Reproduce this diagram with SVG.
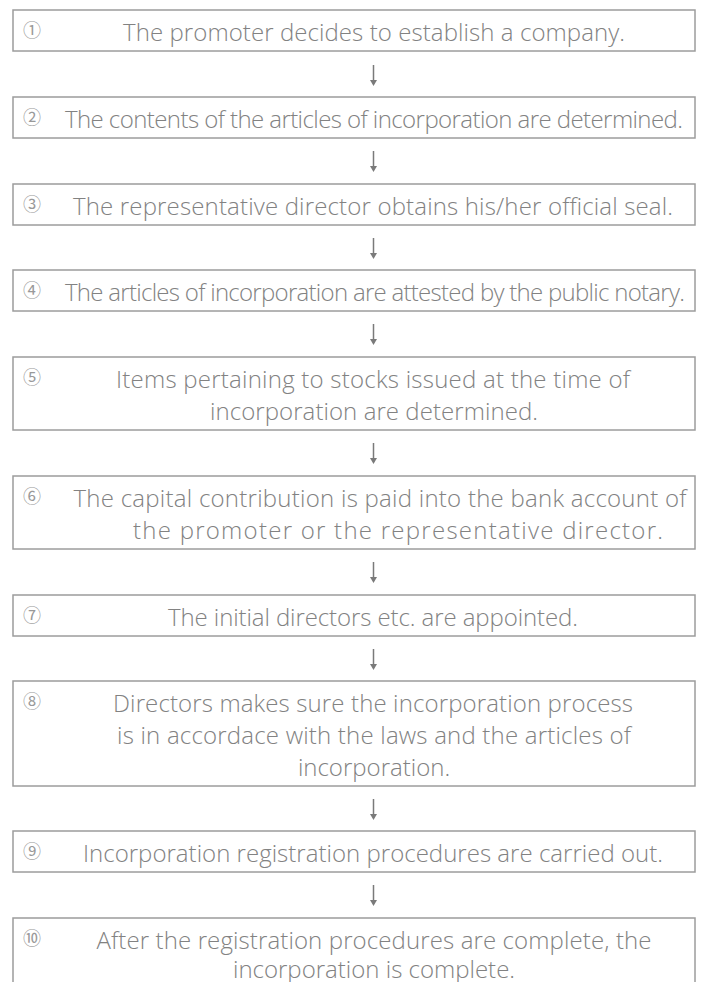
<svg xmlns="http://www.w3.org/2000/svg" width="701" height="982" viewBox="0 0 701 982">
<style>
.box{fill:#fff;stroke:#9c9c9c;stroke-width:1.5}
.t{font-family:"Open Sans","Noto Sans",sans-serif;font-weight:300;font-size:24px;fill:#828282;text-anchor:middle}
.n{font-family:"Noto Sans CJK JP","Noto Sans",sans-serif;font-size:18px;fill:#999;text-anchor:middle}
.c line{stroke:#7a7a7a;stroke-width:1.5}
.c polygon{fill:#7a7a7a}
</style>
<rect width="701" height="982" fill="#fff"/>
<g id="n1"><rect class="box" x="13" y="10" width="682" height="41"/><text class="n" x="32" y="37">①</text><text class="t" x="374" y="41" textLength="502" lengthAdjust="spacing">The promoter decides to establish a company.</text></g>
<g id="n2"><rect class="box" x="13" y="97" width="682" height="41"/><text class="n" x="32" y="124">②</text><text class="t" x="374" y="128" textLength="618" lengthAdjust="spacing">The contents of the articles of incorporation are determined.</text></g>
<g id="n3"><rect class="box" x="13" y="184" width="682" height="41"/><text class="n" x="32" y="211">③</text><text class="t" x="373" y="215" textLength="600" lengthAdjust="spacing">The representative director obtains his/her official seal.</text></g>
<g id="n4"><rect class="box" x="13" y="270" width="682" height="41"/><text class="n" x="32" y="297">④</text><text class="t" x="375" y="301" textLength="620" lengthAdjust="spacing">The articles of incorporation are attested by the public notary.</text></g>
<g id="n5"><rect class="box" x="13" y="357" width="682" height="73"/><text class="n" x="32" y="384">⑤</text><text class="t" x="373" y="388" textLength="514" lengthAdjust="spacing">Items pertaining to stocks issued at the time of</text><text class="t" x="374" y="420" textLength="328" lengthAdjust="spacing">incorporation are determined.</text></g>
<g id="n6"><rect class="box" x="13" y="476" width="682" height="73"/><text class="n" x="32" y="503">⑥</text><text class="t" x="380" y="507" textLength="613" lengthAdjust="spacing">The capital contribution is paid into the bank account of</text><text class="t" x="398" y="539" textLength="530" lengthAdjust="spacing">the promoter or the representative director.</text></g>
<g id="n7"><rect class="box" x="13" y="595" width="682" height="41"/><text class="n" x="32" y="622">⑦</text><text class="t" x="373" y="626" textLength="410" lengthAdjust="spacing">The initial directors etc. are appointed.</text></g>
<g id="n8"><rect class="box" x="13" y="681" width="682" height="105"/><text class="n" x="32" y="708">⑧</text><text class="t" x="373" y="712" textLength="520" lengthAdjust="spacing">Directors makes sure the incorporation process</text><text class="t" x="374" y="744" textLength="514" lengthAdjust="spacing">is in accordace with the laws and the articles of</text><text class="t" x="374" y="776">incorporation.</text></g>
<g id="n9"><rect class="box" x="13" y="831" width="682" height="41"/><text class="n" x="32" y="858">⑨</text><text class="t" x="373" y="862" textLength="580" lengthAdjust="spacing">Incorporation registration procedures are carried out.</text></g>
<g id="n10"><rect class="box" x="13" y="918" width="682" height="80"/><text class="n" x="32" y="945">⑩</text><text class="t" x="374" y="949" textLength="555" lengthAdjust="spacing">After the registration procedures are complete, the</text><text class="t" x="374" y="978">incorporation is complete.</text></g>
<g id="connectors" class="c">
<line x1="373.5" y1="65" x2="373.5" y2="81"/><polygon points="370,80 377,80 373.5,86"/>
<line x1="373.5" y1="151" x2="373.5" y2="167"/><polygon points="370,166 377,166 373.5,172"/>
<line x1="373.5" y1="238" x2="373.5" y2="254"/><polygon points="370,253 377,253 373.5,259"/>
<line x1="373.5" y1="324" x2="373.5" y2="340"/><polygon points="370,339 377,339 373.5,345"/>
<line x1="373.5" y1="443" x2="373.5" y2="459"/><polygon points="370,458 377,458 373.5,464"/>
<line x1="373.5" y1="562" x2="373.5" y2="578"/><polygon points="370,577 377,577 373.5,583"/>
<line x1="373.5" y1="649" x2="373.5" y2="665"/><polygon points="370,664 377,664 373.5,670"/>
<line x1="373.5" y1="799" x2="373.5" y2="815"/><polygon points="370,814 377,814 373.5,820"/>
<line x1="373.5" y1="885" x2="373.5" y2="901"/><polygon points="370,900 377,900 373.5,906"/>
</g>
</svg>
